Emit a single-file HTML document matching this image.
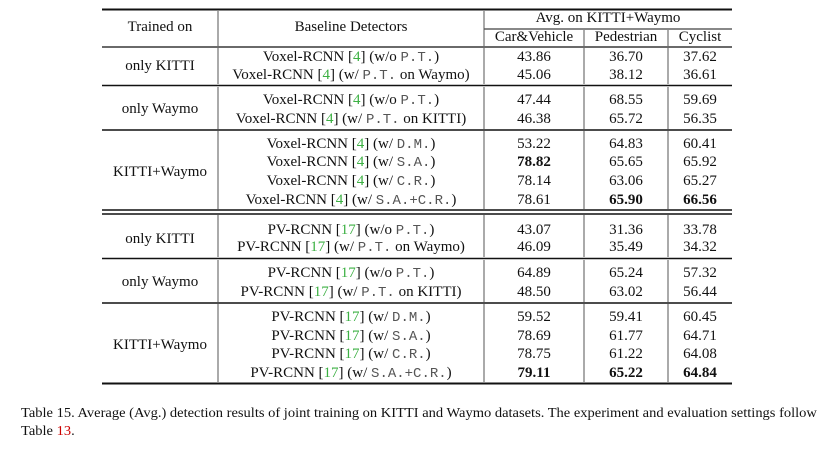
<!DOCTYPE html>
<html><head><meta charset="utf-8">
<style>
html,body{margin:0;padding:0;background:#fff;}
body{width:831px;height:451px;position:relative;overflow:hidden;font-family:"Liberation Serif",serif;font-size:15px;color:#111;}
.t{position:absolute;white-space:nowrap;line-height:18px;height:18px;transform:translateX(-50%);}
.m{font-family:"Liberation Mono",monospace;font-size:14px;color:#555;}
.g{color:#3cb043;}
.b{font-weight:bold;}
.cap{position:absolute;left:21px;white-space:nowrap;font-size:14px;line-height:18px;transform-origin:0 0;}
svg{position:absolute;left:0;top:0;}
</style></head><body>
<svg width="831" height="451">
<g stroke="#111" fill="none">
<line x1="102" x2="732" y1="9.5" y2="9.5" stroke-width="2"/>
<line x1="484" x2="732" y1="29" y2="29" stroke-width="1"/>
<line x1="102" x2="732" y1="47" y2="47" stroke-width="1.2"/>
<line x1="102" x2="732" y1="85.5" y2="85.5" stroke-width="1.5"/>
<line x1="102" x2="732" y1="130" y2="130" stroke-width="1.5"/>
<line x1="102" x2="732" y1="210" y2="210" stroke-width="1.5"/>
<line x1="102" x2="732" y1="214" y2="214" stroke-width="1.5"/>
<line x1="102" x2="732" y1="258.5" y2="258.5" stroke-width="1.5"/>
<line x1="102" x2="732" y1="303" y2="303" stroke-width="1.5"/>
<line x1="102" x2="732" y1="383.5" y2="383.5" stroke-width="2"/>
</g>
<g stroke="#555" stroke-width="1">
<line x1="218" x2="218" y1="11" y2="46"/><line x1="484" x2="484" y1="11" y2="46"/>
<line x1="584" x2="584" y1="30" y2="46"/><line x1="668" x2="668" y1="30" y2="46"/>
<path d="M218 48V84M484 48V84M584 48V84M668 48V84"/>
<path d="M218 87V129M484 87V129M584 87V129M668 87V129"/>
<path d="M218 131V209M484 131V209M584 131V209M668 131V209"/>
<path d="M218 215V257M484 215V257M584 215V257M668 215V257"/>
<path d="M218 260V302M484 260V302M584 260V302M668 260V302"/>
<path d="M218 304V382M484 304V382M584 304V382M668 304V382"/>
</g>
</svg>

<div class="t" style="left:160px;top:18px">Trained on</div>
<div class="t" style="left:351px;top:18px">Baseline Detectors</div>
<div class="t" style="left:608px;top:9px">Avg. on KITTI+Waymo</div>
<div class="t" style="left:534px;top:28px">Car&amp;Vehicle</div>
<div class="t" style="left:626px;top:28px">Pedestrian</div>
<div class="t" style="left:700px;top:28px">Cyclist</div>

<div class="t" style="left:160px;top:57px">only KITTI</div>
<div class="t" style="left:351px;top:48px">Voxel-RCNN [<span class="g">4</span>] (w/o <span class="m">P.T.</span>)</div>
<div class="t" style="left:351px;top:66px">Voxel-RCNN [<span class="g">4</span>] (w/ <span class="m">P.T.</span> on Waymo)</div>
<div class="t" style="left:534px;top:48px">43.86</div><div class="t" style="left:626px;top:48px">36.70</div><div class="t" style="left:700px;top:48px">37.62</div>
<div class="t" style="left:534px;top:66px">45.06</div><div class="t" style="left:626px;top:66px">38.12</div><div class="t" style="left:700px;top:66px">36.61</div>

<div class="t" style="left:160px;top:100px">only Waymo</div>
<div class="t" style="left:351px;top:91px">Voxel-RCNN [<span class="g">4</span>] (w/o <span class="m">P.T.</span>)</div>
<div class="t" style="left:351px;top:110px">Voxel-RCNN [<span class="g">4</span>] (w/ <span class="m">P.T.</span> on KITTI)</div>
<div class="t" style="left:534px;top:91px">47.44</div><div class="t" style="left:626px;top:91px">68.55</div><div class="t" style="left:700px;top:91px">59.69</div>
<div class="t" style="left:534px;top:110px">46.38</div><div class="t" style="left:626px;top:110px">65.72</div><div class="t" style="left:700px;top:110px">56.35</div>

<div class="t" style="left:160px;top:163px">KITTI+Waymo</div>
<div class="t" style="left:351px;top:135px">Voxel-RCNN [<span class="g">4</span>] (w/ <span class="m">D.M.</span>)</div>
<div class="t" style="left:351px;top:153px">Voxel-RCNN [<span class="g">4</span>] (w/ <span class="m">S.A.</span>)</div>
<div class="t" style="left:351px;top:172px">Voxel-RCNN [<span class="g">4</span>] (w/ <span class="m">C.R.</span>)</div>
<div class="t" style="left:351px;top:191px">Voxel-RCNN [<span class="g">4</span>] (w/ <span class="m">S.A.+C.R.</span>)</div>
<div class="t" style="left:534px;top:135px">53.22</div><div class="t" style="left:626px;top:135px">64.83</div><div class="t" style="left:700px;top:135px">60.41</div>
<div class="t b" style="left:534px;top:153px">78.82</div><div class="t" style="left:626px;top:153px">65.65</div><div class="t" style="left:700px;top:153px">65.92</div>
<div class="t" style="left:534px;top:172px">78.14</div><div class="t" style="left:626px;top:172px">63.06</div><div class="t" style="left:700px;top:172px">65.27</div>
<div class="t" style="left:534px;top:191px">78.61</div><div class="t b" style="left:626px;top:191px">65.90</div><div class="t b" style="left:700px;top:191px">66.56</div>

<div class="t" style="left:160px;top:230px">only KITTI</div>
<div class="t" style="left:351px;top:221px">PV-RCNN [<span class="g">17</span>] (w/o <span class="m">P.T.</span>)</div>
<div class="t" style="left:351px;top:238px">PV-RCNN [<span class="g">17</span>] (w/ <span class="m">P.T.</span> on Waymo)</div>
<div class="t" style="left:534px;top:221px">43.07</div><div class="t" style="left:626px;top:221px">31.36</div><div class="t" style="left:700px;top:221px">33.78</div>
<div class="t" style="left:534px;top:238px">46.09</div><div class="t" style="left:626px;top:238px">35.49</div><div class="t" style="left:700px;top:238px">34.32</div>

<div class="t" style="left:160px;top:273px">only Waymo</div>
<div class="t" style="left:351px;top:264px">PV-RCNN [<span class="g">17</span>] (w/o <span class="m">P.T.</span>)</div>
<div class="t" style="left:351px;top:283px">PV-RCNN [<span class="g">17</span>] (w/ <span class="m">P.T.</span> on KITTI)</div>
<div class="t" style="left:534px;top:264px">64.89</div><div class="t" style="left:626px;top:264px">65.24</div><div class="t" style="left:700px;top:264px">57.32</div>
<div class="t" style="left:534px;top:283px">48.50</div><div class="t" style="left:626px;top:283px">63.02</div><div class="t" style="left:700px;top:283px">56.44</div>

<div class="t" style="left:160px;top:336px">KITTI+Waymo</div>
<div class="t" style="left:351px;top:308px">PV-RCNN [<span class="g">17</span>] (w/ <span class="m">D.M.</span>)</div>
<div class="t" style="left:351px;top:327px">PV-RCNN [<span class="g">17</span>] (w/ <span class="m">S.A.</span>)</div>
<div class="t" style="left:351px;top:345px">PV-RCNN [<span class="g">17</span>] (w/ <span class="m">C.R.</span>)</div>
<div class="t" style="left:351px;top:364px">PV-RCNN [<span class="g">17</span>] (w/ <span class="m">S.A.+C.R.</span>)</div>
<div class="t" style="left:534px;top:308px">59.52</div><div class="t" style="left:626px;top:308px">59.41</div><div class="t" style="left:700px;top:308px">60.45</div>
<div class="t" style="left:534px;top:327px">78.69</div><div class="t" style="left:626px;top:327px">61.77</div><div class="t" style="left:700px;top:327px">64.71</div>
<div class="t" style="left:534px;top:345px">78.75</div><div class="t" style="left:626px;top:345px">61.22</div><div class="t" style="left:700px;top:345px">64.08</div>
<div class="t b" style="left:534px;top:364px">79.11</div><div class="t b" style="left:626px;top:364px">65.22</div><div class="t b" style="left:700px;top:364px">64.84</div>

<div class="cap" style="top:405px;transform:scaleX(1.035)">Table 15. Average (Avg.) detection results of joint training on KITTI and Waymo datasets. The experiment and evaluation settings follow</div>
<div class="cap" style="top:423px;transform:scaleX(1.035)">Table <span style="color:#c00">13</span>.</div>
</body></html>
